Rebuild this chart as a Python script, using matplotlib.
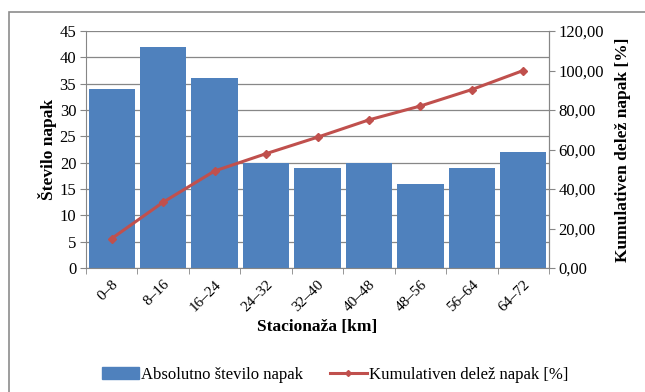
import matplotlib
matplotlib.use("Agg")
import matplotlib.pyplot as plt
from matplotlib.patches import Rectangle
from matplotlib.lines import Line2D
from matplotlib.ticker import FuncFormatter, MultipleLocator
import numpy as np

plt.rcParams['font.family'] = ['Liberation Serif', 'DejaVu Serif']

categories = ["0–8", "8–16", "16–24", "24–32", "32–40", "40–48", "48–56", "56–64", "64–72"]
counts = [34, 42, 36, 20, 19, 20, 16, 19, 22]
cumulative = [14.91, 33.33, 49.12, 57.89, 66.23, 75.00, 82.02, 90.35, 100.00]

bar_color = "#4F81BD"
line_color = "#C0504D"
grid_color = "#878787"
axis_color = "#868686"

fig = plt.figure(figsize=(6.45, 3.92), dpi=100)
fig.patch.set_facecolor("white")

# outer chart frame
fig.add_artist(Rectangle((9 / 645, -0.05), 1.0, 1 - 12 / 392 + 0.05,
                         transform=fig.transFigure, fill=False,
                         edgecolor="#8c8c8c", linewidth=1.2))

ax = fig.add_axes([86 / 645, 1 - 268 / 392, (549 - 86) / 645, (268 - 31) / 392])
x = np.arange(len(categories))
ax.bar(x, counts, width=0.9, color=bar_color, zorder=2)
ax.set_xlim(-0.5, len(categories) - 0.5)
ax.set_ylim(0, 45)
ax.yaxis.set_major_locator(MultipleLocator(5))
ax.grid(axis="y", color=grid_color, linewidth=0.9, zorder=0)
ax.set_axisbelow(True)

ax.set_xticks(x)
ax.set_xticklabels(categories, rotation=45, ha="right", rotation_mode="anchor", fontsize=11)
ax.set_xticks(np.arange(-0.5, len(categories)), minor=True)
ax.tick_params(axis="x", which="major", length=0, pad=7)
ax.tick_params(axis="x", which="minor", length=4, color=axis_color)
ax.tick_params(axis="y", length=4, color=axis_color, labelsize=12, pad=3)

ax.spines["top"].set_visible(False)
for s in ["left", "bottom", "right"]:
    ax.spines[s].set_color(axis_color)

ax.set_ylabel("Število napak", fontsize=12.5, fontweight="bold", labelpad=2)
ax.set_xlabel("Stacionaža [km]", fontsize=12.5, fontweight="bold", labelpad=4)

ax2 = ax.twinx()
ax2.plot(x, cumulative, color=line_color, linewidth=2.2, marker="D", markersize=4.5, zorder=3)
ax2.set_ylim(0, 120)
ax2.yaxis.set_major_locator(MultipleLocator(20))
ax2.yaxis.set_major_formatter(FuncFormatter(lambda v, p: f"{v:.2f}".replace(".", ",")))
ax2.tick_params(axis="y", length=4, color=axis_color, labelsize=12, pad=3)
for s in ["top", "left", "bottom"]:
    ax2.spines[s].set_visible(False)
ax2.spines["right"].set_color(axis_color)
ax2.set_ylabel("Kumulativen delež napak [%]", fontsize=12.5, fontweight="bold", labelpad=8)

handles = [Rectangle((0, 0), 1, 1, color=bar_color),
           Line2D([0], [0], color=line_color, linewidth=2.2, marker="D", markersize=3)]
fig.legend(handles, ["Absolutno število napak", "Kumulativen delež napak [%]"],
           loc="center", bbox_to_anchor=(0.52, 1 - 375 / 392), ncol=2, frameon=False,
           fontsize=12, handlelength=2.2, handletextpad=0.15, columnspacing=1.6)

fig.savefig("out.png", dpi=100)
